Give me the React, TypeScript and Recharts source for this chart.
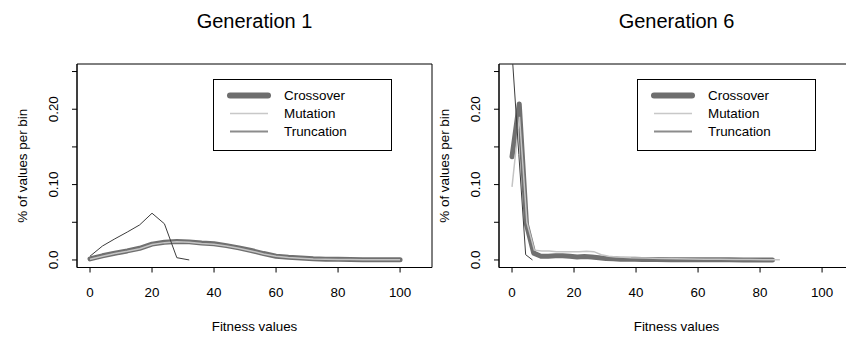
import React from 'react';
import { LineChart, Line, XAxis, YAxis, Legend, ReferenceArea } from 'recharts';

// Generation 1 histograms (bin width 4)
const gen1X = [0, 4, 8, 12, 16, 20, 24, 28, 32, 36, 40, 44, 48, 52, 56, 60, 64, 68, 72, 76, 80, 84, 88, 92, 96, 100];
const gen1Crossover = [0.0015, 0.0055, 0.009, 0.012, 0.0155, 0.021, 0.0235, 0.0245, 0.024, 0.0225, 0.0215, 0.019, 0.016, 0.0125, 0.0085, 0.005, 0.0035, 0.0025, 0.0015, 0.001, 0.0008, 0.0006, 0.0004, 0.0003, 0.0002, 0.0002];
const gen1Mutation = [0.001, 0.005, 0.0085, 0.0115, 0.015, 0.0205, 0.023, 0.024, 0.0235, 0.022, 0.021, 0.0185, 0.0155, 0.012, 0.008, 0.0048, 0.0033, 0.0023, 0.0014, 0.0009, 0.0007, 0.0005, 0.0004, 0.0003, 0.0002, 0.0002];
const gen1TruncX = [0, 4, 8, 12, 16, 20, 24, 28, 32];
const gen1Truncation = [0.005, 0.0185, 0.028, 0.037, 0.0465, 0.062, 0.048, 0.003, 0.0];

// Generation 6 histograms
const gen6CrossX = [0, 2.33, 4.67, 7, 9.33, 11.67, 14, 16.33, 18.67, 21, 23.33, 25.67, 28, 30.33, 32.67, 35, 37.33, 39.67, 42, 46.67, 51.33, 56, 60.67, 65.33, 70, 74.67, 79.33, 84];
const gen6Crossover = [0.137, 0.207, 0.047, 0.009, 0.005, 0.005, 0.0055, 0.0055, 0.005, 0.004, 0.0045, 0.004, 0.003, 0.002, 0.0015, 0.001, 0.001, 0.0008, 0.0007, 0.0005, 0.0004, 0.0003, 0.0003, 0.0002, 0.0002, 0.0001, 0.0001, 0.0001];
const gen6MutX = [0, 2.4, 4.8, 7.2, 9.6, 12, 14.4, 16.8, 19.2, 21.6, 24, 26.4, 28.8, 31.2, 33.6, 36, 38.4, 43.2, 48, 52.8, 57.6, 62.4, 67.2, 72, 76.8, 81.6, 86.4];
const gen6Mutation = [0.097, 0.19, 0.05, 0.013, 0.012, 0.012, 0.011, 0.011, 0.011, 0.011, 0.0115, 0.011, 0.007, 0.005, 0.004, 0.0035, 0.003, 0.0025, 0.002, 0.0015, 0.0012, 0.001, 0.0008, 0.0006, 0.0005, 0.0003, 0.0002];
const gen6TruncX = [0, 2.2, 4.4, 6.6];
const gen6Truncation = [0.275, 0.14, 0.007, 0.0];

const xTicks = [0, 20, 40, 60, 80, 100];
const yTicks = [0, 0.05, 0.1, 0.15, 0.2, 0.25];
const yTickLabels = ['0.0', '', '0.10', '', '0.20', ''];
const seriesNames = ['Crossover', 'Mutation', 'Truncation'];

const X_DOMAIN: [number, number] = [-4.2, 110.3];
const Y_DOMAIN: [number, number] = [-0.01, 0.26];
const FONT = '"Liberation Sans", Arial, sans-serif';
const toPoints = (xs: number[], ys: number[]) => xs.map((x, i) => ({ x, y: ys[i] }));

const XTick = ({ x, y, payload }: any) => (
  <text x={x} y={y + 24.5} textAnchor="middle" fontSize={13.4} fontFamily={FONT} fill="#000">
    {payload.value}
  </text>
);

const YTick = ({ x, y, payload }: any) => {
  const idx = yTicks.findIndex((t) => Math.abs(t - payload.value) < 1e-9);
  const label = idx >= 0 ? yTickLabels[idx] : '';
  const tx = x - 13.5;
  return (
    <text x={tx} y={y} transform={`rotate(-90 ${tx} ${y})`} textAnchor="middle" fontSize={13.4} fontFamily={FONT} fill="#000">
      {label}
    </text>
  );
};

const LegendBox = () => (
  <svg width={179} height={72} style={{ display: 'block' }}>
    <rect x={0.5} y={0.5} width={178} height={71} fill="#fff" stroke="#000" strokeWidth={1} />
    <line x1={17} x2={55} y1={16.5} y2={16.5} stroke="#6e6e6e" strokeWidth={6} strokeLinecap="round" />
    <line x1={17} x2={55} y1={34.5} y2={34.5} stroke="#c8c8c8" strokeWidth={1.5} />
    <line x1={17} x2={55} y1={52.5} y2={52.5} stroke="#8c8c8c" strokeWidth={2} />
    {seriesNames.map((n, i) => (
      <text key={n} x={71} y={16.5 + i * 18 + 4.8} fontSize={13.4} fontFamily={FONT} fill="#000">
        {n}
      </text>
    ))}
  </svg>
);

interface PanelProps {
  title: string;
  crossover: { x: number; y: number }[];
  mutation: { x: number; y: number }[];
  truncation: { x: number; y: number }[];
  marginLeft: number;
  marginRight: number;
  legendLeft: number;
  width: number;
}

function Panel({ title, crossover, mutation, truncation, marginLeft, marginRight, legendLeft, width }: PanelProps) {
  const plotLeft = marginLeft + 60;
  const plotWidth = width - plotLeft - marginRight;
  return (
    <div style={{ position: 'relative', width, height: 337 }}>
      <div
        style={{
          position: 'absolute',
          left: plotLeft + plotWidth / 2 - 120,
          width: 240,
          top: 11,
          textAlign: 'center',
          fontSize: 20,
          lineHeight: '20px',
          fontFamily: FONT,
          color: '#000',
        }}
      >
        {title}
      </div>
      <LineChart width={width} height={337} margin={{ top: 64, right: marginRight, bottom: 29.5, left: marginLeft }}>
        <XAxis
          dataKey="x"
          type="number"
          domain={X_DOMAIN}
          allowDataOverflow
          ticks={xTicks}
          interval={0}
          height={40}
          tickSize={5}
          tickMargin={0}
          tick={<XTick />}
          axisLine={{ stroke: '#000' }}
          tickLine={{ stroke: '#000' }}
          label={{
            content: ({ viewBox }: any) => (
              <text x={viewBox.x + viewBox.width / 2} y={331} textAnchor="middle" fontSize={13.4} fontFamily={FONT} fill="#000">
                Fitness values
              </text>
            ),
          }}
        />
        <YAxis
          type="number"
          domain={Y_DOMAIN}
          allowDataOverflow
          ticks={yTicks}
          interval={0}
          width={60}
          tickSize={5}
          tickMargin={0}
          tick={<YTick />}
          axisLine={{ stroke: '#000' }}
          tickLine={{ stroke: '#000' }}
          label={{
            content: ({ viewBox }: any) => {
              const tx = viewBox.x + viewBox.width - 50.5;
              const ty = viewBox.y + viewBox.height / 2;
              return (
                <text x={tx} y={ty} transform={`rotate(-90 ${tx} ${ty})`} textAnchor="middle" fontSize={13.4} fontFamily={FONT} fill="#000">
                  % of values per bin
                </text>
              );
            },
          }}
        />
        <ReferenceArea
          x1={X_DOMAIN[0]}
          x2={X_DOMAIN[1]}
          y1={Y_DOMAIN[0]}
          y2={Y_DOMAIN[1]}
          fill="none"
          fillOpacity={0}
          stroke="#000"
          strokeWidth={1}
          ifOverflow="visible"
        />
        <Legend
          layout="horizontal"
          verticalAlign="middle"
          align="center"
          content={() => <LegendBox />}
          wrapperStyle={{ position: 'absolute', left: legendLeft, top: 79, width: 179, height: 72 }}
        />
        <Line data={crossover} dataKey="y" name="Crossover" type="linear" stroke="#707070" strokeWidth={5} dot={false} strokeLinejoin="round" strokeLinecap="round" isAnimationActive={false} />
        <Line data={mutation} dataKey="y" name="Mutation" type="linear" stroke="#c4c4c4" strokeWidth={1.5} dot={false} isAnimationActive={false} />
        <Line data={truncation} dataKey="y" name="Truncation" type="linear" stroke="#3c3c3c" strokeWidth={1} dot={false} isAnimationActive={false} />
      </LineChart>
    </div>
  );
}

export default function App() {
  return (
    <div style={{ position: 'absolute', left: 0, top: 0, width: 846, height: 337, overflow: 'hidden', background: '#fff', fontFamily: FONT }}>
      <div style={{ position: 'absolute', left: 0, top: 0 }}>
        <Panel
          title="Generation 1"
          crossover={toPoints(gen1X, gen1Crossover)}
          mutation={toPoints(gen1X, gen1Mutation)}
          truncation={toPoints(gen1TruncX, gen1Truncation)}
          width={470}
          marginLeft={17}
          marginRight={38}
          legendLeft={213}
        />
      </div>
      <div style={{ position: 'absolute', left: 420, top: 0 }}>
        <Panel
          title="Generation 6"
          crossover={toPoints(gen6CrossX, gen6Crossover)}
          mutation={toPoints(gen6MutX, gen6Mutation)}
          truncation={toPoints(gen6TruncX, gen6Truncation)}
          width={446}
          marginLeft={19}
          marginRight={12}
          legendLeft={217}
        />
      </div>
    </div>
  );
}
